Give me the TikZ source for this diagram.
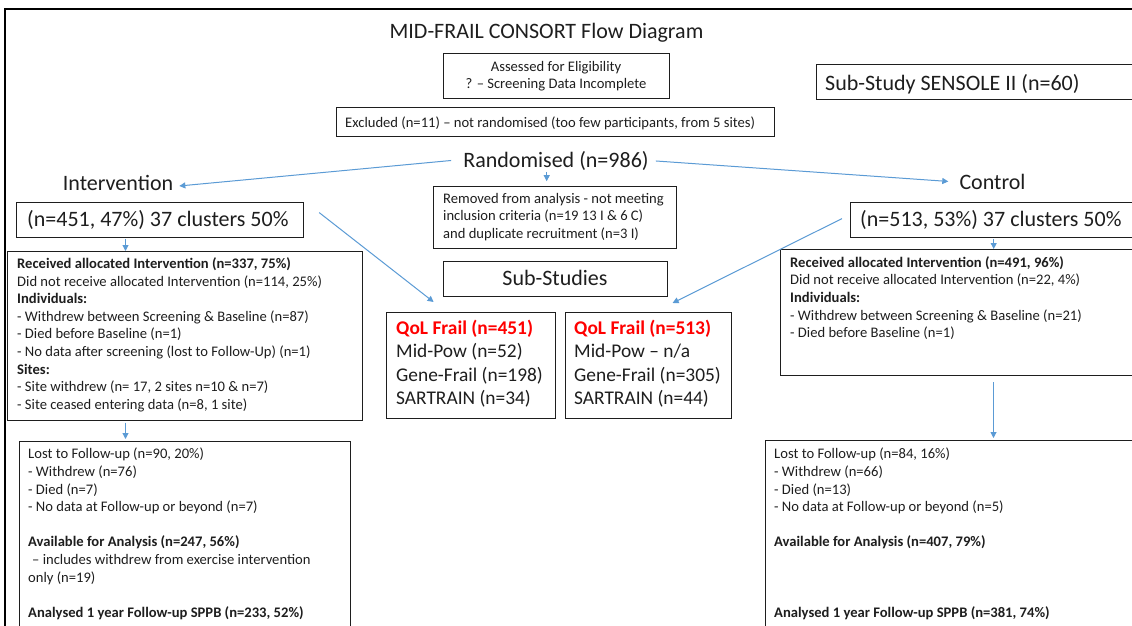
\documentclass[tikz,border=0pt]{standalone}
\usepackage{fontspec}
\setmainfont{Carlito}
\usetikzlibrary{arrows.meta,calc}
\definecolor{conn}{RGB}{91,155,213}
\definecolor{qred}{RGB}{255,0,0}
\definecolor{ink}{RGB}{30,30,30}
\newcommand{\myS}{\fontsize{14.6}{17.6}\selectfont}
\newcommand{\myL}{\fontsize{22}{26}\selectfont}
\newcommand{\myQ}{\fontsize{19.4}{23.3}\selectfont}
\begin{document}
\begin{tikzpicture}[x=1pt,y=-1pt,
  box/.style={draw=ink, line width=1.2pt, anchor=north west, inner sep=0pt},
  txt/.style={anchor=north west, inner sep=0pt, align=left, font=\myS, text=ink},
  big/.style={inner sep=0pt, font=\myL, text=ink},
  link/.style={draw=conn, line width=1pt, -{Triangle[length=6pt,width=6pt]}},
]
\fill[white] (0,0) rectangle (1132,626);
\useasboundingbox (0,0) rectangle (1132,626);
\clip (0,0) rectangle (1132,626);
\draw[line width=2.2pt, draw=black] (5,9) rectangle (1160,660);

% title
\node[big, anchor=base] (title) at (546.5,39) {MID-FRAIL CONSORT Flow Diagram};

% assessed
\node[box, minimum width=226pt, minimum height=45pt] (assess) at (443,53) {};
\node[txt, anchor=north, align=center] (assessT) at (556,58.6) {\strut Assessed for Eligibility\\? – Screening Data Incomplete};

% sub-study sensole
\node[box, minimum width=340pt, minimum height=35pt] (sens) at (816,64) {};
\node[big, anchor=base west] (sensT) at (825,90) {Sub-Study SENSOLE II (n=60)};

% excluded
\node[box, minimum width=438pt, minimum height=29pt] (excl) at (336,107) {};
\node[txt, anchor=base west] (exclT) at (345,127.5) {Excluded (n=11) – not randomised (too few participants, from 5 sites)};

% randomised and arms
\node[big, anchor=base] (rand) at (556,167) {Randomised (n=986)};
\node[big, anchor=base] (interv) at (118,190) {Intervention};
\node[big, anchor=base] (ctrl) at (992.5,189) {Control};

% removed
\node[box, minimum width=243.3pt, minimum height=62.3pt] (rem) at (432.7,185.7) {};
\node[txt] (remT) at (443,190.7) {\strut Removed from analysis - not meeting\\inclusion criteria (n=19 13 I \& 6 C)\\and duplicate recruitment (n=3 I)};

% cluster boxes
\node[box, minimum width=287pt, minimum height=35pt] (n451) at (16,202) {};
\node[big, anchor=base west] (n451T) at (27,226) {(n=451, 47\%) 37 clusters 50\%};
\node[box, minimum width=300pt, minimum height=35pt] (n513) at (850,202) {};
\node[big, anchor=base west] (n513T) at (860,226) {(n=513, 53\%) 37 clusters 50\%};

% sub-studies
\node[box, minimum width=224pt, minimum height=35pt] (subs) at (443,261) {};
\node[big, anchor=base] (subsT) at (555,285) {Sub-Studies};

% QoL boxes
\node[box, minimum width=169pt, minimum height=106pt] (qol1) at (386,312) {};
\node[txt, font=\myQ] (qol1T) at (396,318) {\strut\textcolor{qred}{\textbf{QoL Frail (n=451)}}\\Mid-Pow (n=52)\\Gene-Frail (n=198)\\SARTRAIN (n=34)};
\node[box, minimum width=166pt, minimum height=106pt] (qol2) at (565,312) {};
\node[txt, font=\myQ] (qol2T) at (574,318) {\strut\textcolor{qred}{\textbf{QoL Frail (n=513)}}\\Mid-Pow – n/a\\Gene-Frail (n=305)\\SARTRAIN (n=44)};

% received boxes
\node[box, minimum width=355pt, minimum height=169pt] (recvL) at (7,251) {};
\node[txt] (recvLT) at (17,256) {\strut\textbf{Received allocated Intervention (n=337, 75\%)}\\
Did not receive allocated Intervention (n=114, 25\%)\\
\textbf{Individuals:}\\
- Withdrew between Screening \& Baseline (n=87)\\
- Died before Baseline (n=1)\\
- No data after screening (lost to Follow-Up) (n=1)\\
\textbf{Sites:}\\
- Site withdrew (n= 17, 2 sites n=10 \& n=7)\\
- Site ceased entering data (n=8, 1 site)};

\node[box, minimum width=380pt, minimum height=126pt] (recvR) at (780,249) {};
\node[txt] (recvRT) at (790,254.7) {\strut\textbf{Received allocated Intervention (n=491, 96\%)}\\
Did not receive allocated Intervention (n=22, 4\%)\\
\textbf{Individuals:}\\
- Withdrew between Screening \& Baseline (n=21)\\
- Died before Baseline (n=1)};

% lost boxes
\node[box, minimum width=331pt, minimum height=230pt] (lostL) at (19,441) {};
\node[txt] (lostLT) at (28,446.4) {\strut Lost to Follow-up (n=90, 20\%)\\
- Withdrew (n=76)\\
- Died (n=7)\\
- No data at Follow-up or beyond (n=7)\\
\strut\\
\textbf{Available for Analysis (n=247, 56\%)}\\
\hspace*{4pt}– includes withdrew from exercise intervention\\
only (n=19)\\
\strut\\
\textbf{Analysed 1 year Follow-up SPPB (n=233, 52\%)}};

\node[box, minimum width=395pt, minimum height=230pt] (lostR) at (765,440) {};
\node[txt] (lostRT) at (774,446.4) {\strut Lost to Follow-up (n=84, 16\%)\\
- Withdrew (n=66)\\
- Died (n=13)\\
- No data at Follow-up or beyond (n=5)\\
\strut\\
\textbf{Available for Analysis (n=407, 79\%)}\\
\strut\\
\strut\\
\strut\\
\textbf{Analysed 1 year Follow-up SPPB (n=381, 74\%)}};

% connectors
\draw[link] ($(rand.west)+(-12,0)$) -- ($(interv.east)+(6,3.5)$);
\draw[link] ($(rand.east)+(7,0.5)$) -- ($(ctrl.west)+(-11,0)$);
\coordinate (a0) at ($(rand.south)+(-9.3,1.5)$);
\draw[link] (a0) -- ($(a0 |- rem.north)+(0,-4.5)$);
\coordinate (a1) at ($(n451.south west)+(109.5,0.6)$);
\draw[link] (a1) -- (a1 |- recvL.north);
\coordinate (a2) at ($(recvL.south west)+(118.5,1.5)$);
\draw[link] (a2) -- ($(a2 |- lostL.north)+(0,-2)$);
\coordinate (a3) at ($(n513.south west)+(143.7,0.6)$);
\draw[link] (a3) -- (a3 |- recvR.north);
\coordinate (a4) at ($(recvR.south west)+(213.5,6)$);
\draw[link] (a4) -- ($(a4 |- lostR.north)+(0,-2)$);
\draw[link] ($(n451.east)+(15,-7.5)$) -- ($(qol1.north)+(-37.5,-10)$);
\draw[link] ($(n513.west)+(-8,-1.5)$) -- ($(qol2.north)+(24,-9)$);
\end{tikzpicture}
\end{document}
